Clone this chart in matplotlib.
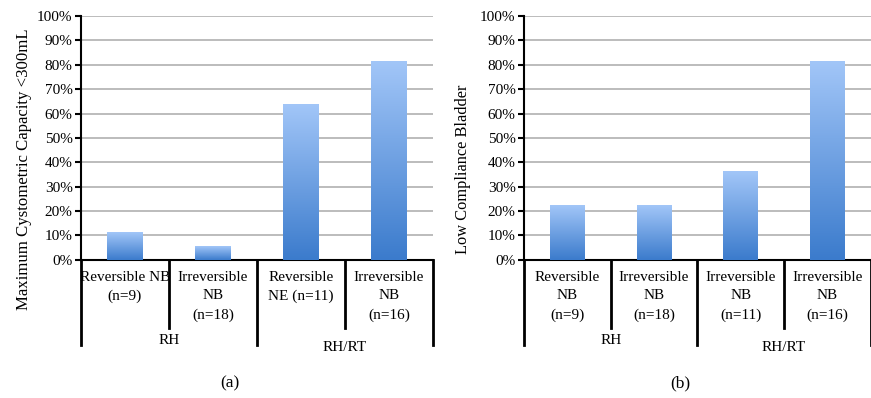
import numpy as np
import matplotlib.pyplot as plt
from matplotlib.colors import LinearSegmentedColormap
from matplotlib.transforms import blended_transform_factory

plt.rcParams['font.family'] = ['Liberation Serif', 'DejaVu Serif']
plt.rcParams['font.size'] = 11

# data
labels_a = ["Reversible NB\n(n=9)", "Irreversible\nNB\n(n=18)",
            "Reversible\nNE (n=11)", "Irreversible\nNB\n(n=16)"]
values_a = [11.1, 5.6, 63.6, 81.25]
labels_b = ["Reversible\nNB\n(n=9)", "Irreversible\nNB\n(n=18)",
            "Irreversible\nNB\n(n=11)", "Irreversible\nNB\n(n=16)"]
values_b = [22.2, 22.2, 36.4, 81.25]
groups = ["RH", "RH/RT"]
ylabel_a = "Maximum Cystometric Capacity <300mL"
ylabel_b = "Low Compliance Bladder"

cmap = LinearSegmentedColormap.from_list("blu", ["#3b7bcc", "#a2c6f8"])
grad = np.linspace(0, 1, 256).reshape(-1, 1)


def panel(ax, labels, values, ylabel, tag, ylsize, ylx, tagx):
    x = np.arange(len(values))
    bars = ax.bar(x, values, width=0.4, color="none", zorder=3)
    for b in bars:
        x0, y0 = b.get_x(), b.get_y()
        ax.imshow(grad, cmap=cmap, origin="lower", aspect="auto",
                  extent=[x0, x0 + b.get_width(), y0, y0 + b.get_height()],
                  zorder=3)
    ax.set_xlim(-0.5, len(values) - 0.5)
    ax.set_ylim(0, 100)
    ax.set_yticks(np.arange(0, 101, 10))
    ax.set_yticklabels([f"{v}%" for v in range(0, 101, 10)])
    ax.yaxis.grid(True, color="#b0b0b0", lw=1.2, zorder=0)
    ax.set_axisbelow(True)
    for s in ["top", "right"]:
        ax.spines[s].set_visible(False)
    ax.spines["left"].set_linewidth(1.5)
    ax.spines["bottom"].set_linewidth(1.5)
    ax.tick_params(axis="y", length=4, width=1.5, direction="out", pad=2)
    ax.set_xticks([])
    ax.set_ylabel(ylabel, fontsize=ylsize)
    ax.yaxis.set_label_coords(ylx, 0.37)

    tr = blended_transform_factory(ax.transData, ax.transAxes)
    # dividers of the category axis
    for i in range(len(values) + 1):
        xd = i - 0.5
        depth = -0.35 if i % 2 == 0 else -0.28
        ax.plot([xd, xd], [0, depth], color="black", lw=2,
                transform=tr, clip_on=False)
    for i, lab in enumerate(labels):
        ax.text(x[i], -0.045, lab, transform=tr, ha="center", va="top",
                linespacing=1.55)
    for g, name in enumerate(groups):
        ax.text(2 * g + 0.5, -0.33 - 0.03 * g, name, transform=tr,
                ha="center", va="center")
    ax.text(tagx, -0.505, tag, transform=ax.transAxes, ha="center",
            va="center", fontsize=12.5)


fig = plt.figure(figsize=(8.71, 3.98), dpi=100)
ax1 = fig.add_axes([0.093, 0.347, 0.404, 0.613])
ax2 = fig.add_axes([0.6016, 0.347, 0.398, 0.613])
panel(ax1, labels_a, values_a, ylabel_a, "(a)", 12.1, -0.14, 0.423)
panel(ax2, labels_b, values_b, ylabel_b, "(b)", 11.8, -0.153, 0.45)

fig.savefig("out.png", dpi=100)
